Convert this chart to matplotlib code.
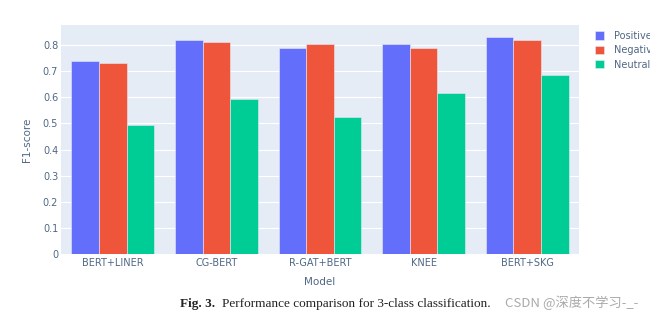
import matplotlib.pyplot as plt
import numpy as np

models = ["BERT+LINER", "CG-BERT", "R-GAT+BERT", "KNEE", "BERT+SKG"]
positive = [0.739, 0.821, 0.790, 0.806, 0.833]
negative = [0.731, 0.812, 0.806, 0.788, 0.821]
neutral = [0.494, 0.594, 0.524, 0.616, 0.686]
series_names = ["Positive", "Negative", "Neutral"]
colors = ["#636efa", "#ef553b", "#00cc96"]
y_ticks = [0, 0.1, 0.2, 0.3, 0.4, 0.5, 0.6, 0.7, 0.8]
y_tick_labels = ["0", "0.1", "0.2", "0.3", "0.4", "0.5", "0.6", "0.7", "0.8"]

text_color = "#506784"

fig = plt.figure(figsize=(6.5, 3.21), dpi=100)
ax = fig.add_axes([0.0938, 0.2087, 0.797, 0.7133])
ax.set_facecolor("#e5ecf6")

x = np.arange(len(models))
width = 0.8 / 3
for i, (name, vals) in enumerate(zip(series_names, [positive, negative, neutral])):
    ax.bar(x + (i - 1) * width, vals, width, color=colors[i], label=name,
           edgecolor="#e5ecf6", linewidth=0.4, zorder=3)

ax.set_xlim(-0.5, len(models) - 0.5)
ax.set_ylim(0, 0.877)
ax.set_yticks(y_ticks)
ax.set_yticklabels(y_tick_labels)
ax.set_xticks(x)
ax.set_xticklabels(models)
ax.tick_params(length=0, labelsize=7, colors=text_color, pad=2)
ax.tick_params(axis="x", pad=3)
ax.grid(axis="y", color="white", linewidth=0.8, zorder=0)
for s in ax.spines.values():
    s.set_visible(False)

ax.set_xlabel("Model", fontsize=7.5, color=text_color, labelpad=6)
ax.set_ylabel("F1-score", fontsize=7.5, color=text_color, labelpad=8)

leg = ax.legend(loc="upper left", bbox_to_anchor=(1.02, 1.0), frameon=False,
                fontsize=7, handlelength=0.9, handleheight=0.9, handletextpad=1.0,
                labelspacing=0.45, borderaxespad=0.2)
for t in leg.get_texts():
    t.set_color(text_color)

fig.text(0.277, 0.044, "Fig. 3.", fontsize=9.5, family="Liberation Serif",
         fontweight="bold", color="#222222")
fig.text(0.3415, 0.044, "Performance comparison for 3-class classification.",
         fontsize=9.5, family="Liberation Serif", color="#222222")
fig.text(0.777, 0.044, "CSDN @深度不学习-_-", fontsize=9.5,
         family=["Noto Sans CJK SC", "DejaVu Sans"], color="#aaaaaa")

fig.savefig("out.png", dpi=100)
